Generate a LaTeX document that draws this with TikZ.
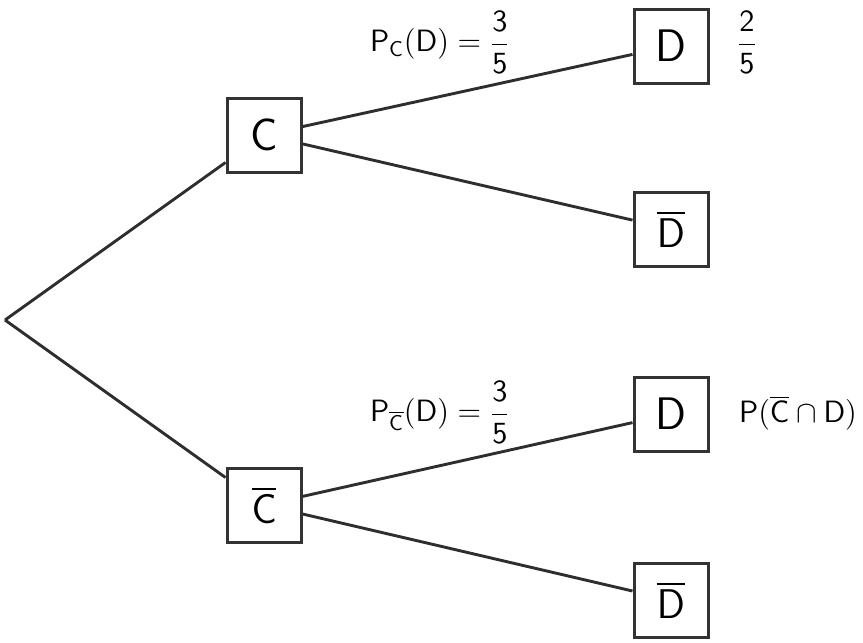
\documentclass[tikz,border=0pt]{standalone}
\usepackage{amsmath}
\newcommand{\lblbox}[1]{\scalebox{1.07}{#1}}
\begin{document}
\begin{tikzpicture}[x=0.5pt,y=-0.5pt,
  box/.style={draw=black!80,line width=1.5pt,minimum width=37pt,minimum height=37pt,inner sep=0pt,fill=white,
    font=\sffamily\fontsize{22.8}{26}\selectfont},
  branch/.style={draw=black!82,line width=1.45pt},
  lab/.style={inner sep=0pt,font=\sffamily\fontsize{14.4}{17}\selectfont}]
\useasboundingbox (0,0) rectangle (863,643);
\coordinate (root) at (5,320);
\node[box] (C) at (264,135) {C};
\node[box] (Cb) at (264,505) {$\overline{\mathsf{C}}$};
\node[box] (D1) at (671,46) {D};
\node[box] (D2) at (671,229) {$\overline{\mathsf{D}}$};
\node[box] (D3) at (671,414) {D};
\node[box] (D4) at (671,600) {$\overline{\mathsf{D}}$};
\draw[branch] (root) -- (C);
\draw[branch] (root) -- (Cb);
\draw[branch] (C) -- (D1);
\draw[branch] (C) -- (D2);
\draw[branch] (Cb) -- (D3);
\draw[branch] (Cb) -- (D4);
\node[lab] (l1) at (440,42) {\lblbox{$\mathsf{P}_{\mathsf{C}}(\mathsf{D}) = \dfrac{\mathsf{3}}{\mathsf{5}}$}};
\node[lab] (l2) at (440,412) {\lblbox{$\mathsf{P}_{\overline{\mathsf{C}}}(\mathsf{D}) = \dfrac{\mathsf{3}}{\mathsf{5}}$}};
\node[lab] (l3) at (747,42) {\lblbox{$\dfrac{\mathsf{2}}{\mathsf{5}}$}};
\node[lab] (l4) at (798,413) {\lblbox{$\mathsf{P}(\overline{\mathsf{C}}\cap\mathsf{D})$}};
\end{tikzpicture}
\end{document}
